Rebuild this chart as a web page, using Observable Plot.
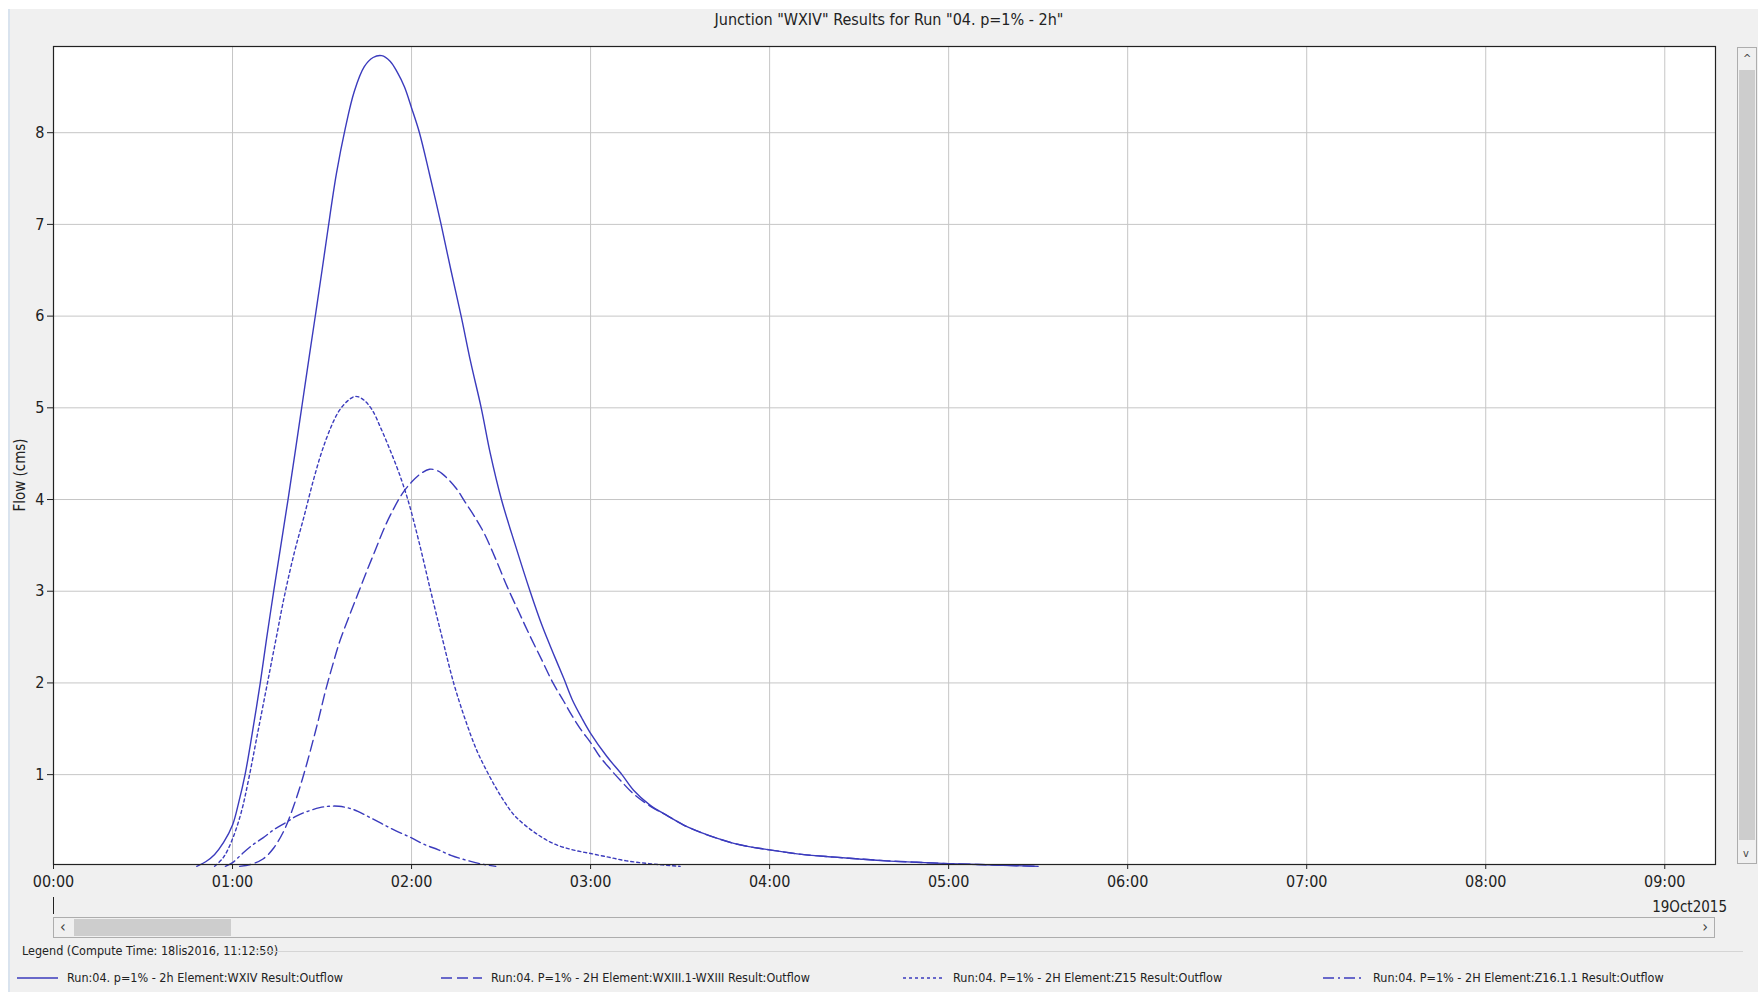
<!DOCTYPE html>
<html><head><meta charset="utf-8">
<script src="https://cdn.jsdelivr.net/npm/d3@7"></script>
<script src="https://cdn.jsdelivr.net/npm/@observablehq/plot@0.6"></script>
<style>
body{margin:0;width:1758px;height:992px;background:#fff;position:relative;overflow:hidden;font-family:"Liberation Sans Narrow","DejaVu Sans Condensed","Arial Narrow",sans-serif;color:#222;}
#panel{position:absolute;left:8px;top:9px;width:1748px;height:983px;background:#f0f0f0;border-left:2px solid #d9e3ee;}
.abs{position:absolute;white-space:nowrap;}
#title{left:58px;width:1662px;top:12px;text-align:center;font-size:16px;line-height:16px;}
#ylab{left:20px;top:475px;font-size:15px;line-height:15px;transform:translate(-50%,-50%) rotate(-90deg);}
#chart{position:absolute;left:0;top:0;}
#daytick{left:53px;top:897px;width:1px;height:17px;background:#222;}
#date{right:31px;top:900px;font-size:15px;line-height:15px;}
#hscroll{left:53px;top:917px;width:1660px;height:19px;border:1px solid #adadad;background:#f0f0f0;}
#hthumb{left:20px;top:1px;width:157px;height:17px;background:#cdcdcd;}
.arrow{font-size:16px;line-height:18px;color:#444;}
#vscroll{left:1737px;top:47px;width:18px;height:815px;border:1px solid #adadad;background:#f0f0f0;}
#vthumb{left:1px;top:22px;width:16px;height:770px;background:#cdcdcd;}
#legtitle{left:22px;top:944px;font-size:12.5px;line-height:14px;}
#legline{left:250px;top:951px;width:1493px;height:1px;background:#d5d5d5;}
.leg{top:971px;font-size:12.5px;line-height:14px;display:flex;align-items:center;}
.leg svg{margin-right:8px;}
</style>
</head><body>
<div id="panel"></div>
<div id="chart"></div>
<div class="abs" id="title">Junction "WXIV" Results for Run "04. p=1% - 2h"</div>
<div class="abs" id="ylab">Flow (cms)</div>
<div class="abs" id="daytick"></div>
<div class="abs" id="date">19Oct2015</div>
<div class="abs" id="hscroll"><div class="abs" id="hthumb"></div><div class="abs arrow" style="left:6px;top:0">&lsaquo;</div><div class="abs arrow" style="right:6px;top:0">&rsaquo;</div></div>
<div class="abs" id="vscroll"><div class="abs" id="vthumb"></div><div class="abs arrow" style="left:5px;top:2px;font-size:11px">&#94;</div><div class="abs arrow" style="left:5px;bottom:0;font-size:11px">v</div></div>
<div class="abs" id="legtitle">Legend (Compute Time: 18lis2016, 11:12:50)</div>
<div class="abs" id="legline"></div>
<div id="legend"></div>
<script>
// ---- data (time in hours after 00:00 on 19Oct2015, flow in cms) ----
const seriesNames = [
  "Run:04. p=1% - 2h Element:WXIV Result:Outflow",
  "Run:04. P=1% - 2H Element:WXIII.1-WXIII Result:Outflow",
  "Run:04. P=1% - 2H Element:Z15 Result:Outflow",
  "Run:04. P=1% - 2H Element:Z16.1.1 Result:Outflow"
];
const wxivT = [0.80,0.85,0.90,0.95,1.0,1.035,1.07,1.11,1.155,1.19,1.23,1.27,1.31,1.35,1.39,1.43,1.466,1.50,1.531,1.58,1.63,1.68,1.736,1.785,1.833,1.88,1.92,1.96,2.0,2.044,2.10,2.165,2.22,2.277,2.33,2.389,2.44,2.502,2.58,2.662,2.73,2.79,2.85,2.897,2.95,3.0,3.09,3.175,3.24,3.33,3.43,3.52,3.615,3.70,3.80,3.90,4.0,4.18,4.366,4.5,4.65,4.82,5.0,5.25,5.5];
const wxivQ = [0,0.05,0.13,0.26,0.45,0.7,1.0,1.45,2.0,2.48,3.0,3.5,4.0,4.52,5.05,5.58,6.05,6.5,6.92,7.55,8.05,8.45,8.72,8.82,8.84,8.78,8.66,8.50,8.27,8.0,7.55,7.0,6.5,6.0,5.5,5.0,4.5,4.0,3.5,3.0,2.62,2.33,2.05,1.82,1.62,1.45,1.2,1.0,0.83,0.67,0.55,0.45,0.37,0.31,0.25,0.21,0.18,0.13,0.10,0.08,0.06,0.045,0.03,0.015,0];
const wxiiiT = [1.04,1.10,1.17,1.23,1.29,1.34,1.39,1.44,1.48,1.52,1.56,1.60,1.65,1.70,1.75,1.80,1.85,1.90,1.95,2.0,2.05,2.10,2.15,2.20,2.25,2.30,2.35,2.406,2.47,2.534,2.60,2.662,2.73,2.79,2.85,2.897,2.95,3.0,3.05,3.11,3.17,3.24,3.33,3.43,3.52,3.615,3.70,3.80,3.90,4.0,4.18,4.366,4.5,4.65,4.82,5.0,5.25,5.5];
const wxiiiQ = [0,0.02,0.08,0.2,0.4,0.65,0.95,1.3,1.6,1.92,2.2,2.46,2.72,2.97,3.22,3.46,3.7,3.9,4.07,4.19,4.28,4.33,4.31,4.23,4.12,3.97,3.82,3.63,3.35,3.05,2.77,2.51,2.24,2.0,1.8,1.64,1.48,1.35,1.2,1.06,0.93,0.79,0.66,0.55,0.45,0.37,0.31,0.25,0.21,0.18,0.13,0.10,0.08,0.06,0.045,0.03,0.015,0];
const z15T = [0.90,0.95,1.0,1.05,1.09,1.14,1.19,1.24,1.29,1.345,1.40,1.453,1.50,1.55,1.593,1.64,1.686,1.73,1.779,1.83,1.88,1.928,1.979,2.04,2.107,2.17,2.235,2.30,2.363,2.42,2.47,2.52,2.577,2.68,2.79,2.9,3.0,3.1,3.2,3.325,3.5];
const z15Q = [0,0.1,0.3,0.6,0.95,1.45,1.95,2.45,2.95,3.42,3.82,4.22,4.53,4.79,4.96,5.07,5.125,5.09,4.98,4.77,4.54,4.3,4.0,3.55,3.0,2.5,2.0,1.6,1.27,1.04,0.86,0.7,0.55,0.38,0.25,0.18,0.14,0.1,0.06,0.03,0];
const z16T = [0.96,1.0,1.05,1.103,1.17,1.231,1.30,1.359,1.42,1.487,1.54,1.594,1.65,1.70,1.76,1.829,1.91,2.0,2.07,2.15,2.22,2.30,2.38,2.47];
const z16Q = [0,0.04,0.13,0.22,0.31,0.40,0.48,0.55,0.60,0.64,0.655,0.655,0.635,0.60,0.54,0.47,0.39,0.31,0.24,0.18,0.12,0.07,0.03,0];
const hourTicks = [0,1,2,3,4,5,6,7,8,9];
const flowTicks = [1,2,3,4,5,6,7,8];
const dashes = ["none","11,5","3,3","11,4,2,4"];

// ---- build ----
const day0 = Date.UTC(2015,9,19,0,0);
const toDate = h => new Date(day0 + h*3600e3);
const mk = (T,Q) => T.map((t,i)=>({time:toDate(t), flow:Q[i]}));
const sets = [mk(wxivT,wxivQ), mk(wxiiiT,wxiiiQ), mk(z15T,z15Q), mk(z16T,z16Q)];
const color = "#3b3bbd";
const fam = '"Liberation Sans Narrow","DejaVu Sans Condensed","Arial Narrow",sans-serif';

const chart = Plot.plot({
  width: 1735, height: 900,
  marginTop: 46, marginLeft: 53, marginRight: 20, marginBottom: 36,
  style: {background:"transparent", fontFamily: fam, fontSize:"16px", color:"#222", overflow:"visible"},
  x: {type:"utc", domain:[toDate(0), toDate(9 + 17/60)]},
  y: {domain:[0.02, 8.94]},
  marks: [
    Plot.frame({fill:"white", stroke:null}),
    Plot.gridX(hourTicks.map(toDate), {stroke:"#c6c6c6", strokeOpacity:1}),
    Plot.gridY(flowTicks, {stroke:"#c6c6c6", strokeOpacity:1}),
    ...sets.map((d,i)=>Plot.line(d, {x:"time", y:"flow", stroke:color, strokeWidth:1.4, curve:"catmull-rom", strokeDasharray: dashes[i]==="none"?null:dashes[i]})),
    Plot.frame({stroke:"#222", strokeWidth:1.2}),
    Plot.axisY({ticks: flowTicks, tickSize:6, tickPadding:3, label:null, fontSize:16}),
    Plot.axisX({ticks: hourTicks.map(toDate), tickFormat: d3.utcFormat("%H:%M"), tickSize:5, tickPadding:6, label:null, fontSize:16})
  ]
});
document.getElementById("chart").appendChild(chart);

// legend
const legX = [17, 441, 903, 1323];
const leg = document.getElementById("legend");
seriesNames.forEach((name,i)=>{
  const div = document.createElement("div");
  div.className = "abs leg";
  div.style.left = legX[i] + "px";
  div.innerHTML = `<svg width="42" height="6"><line x1="0" x2="41" y1="3" y2="3" stroke="${color}" stroke-width="1.4" ${dashes[i]==="none"?"":`stroke-dasharray="${dashes[i]}"`}/></svg><span>${name}</span>`;
  leg.appendChild(div);
});
</script>
</body></html>
